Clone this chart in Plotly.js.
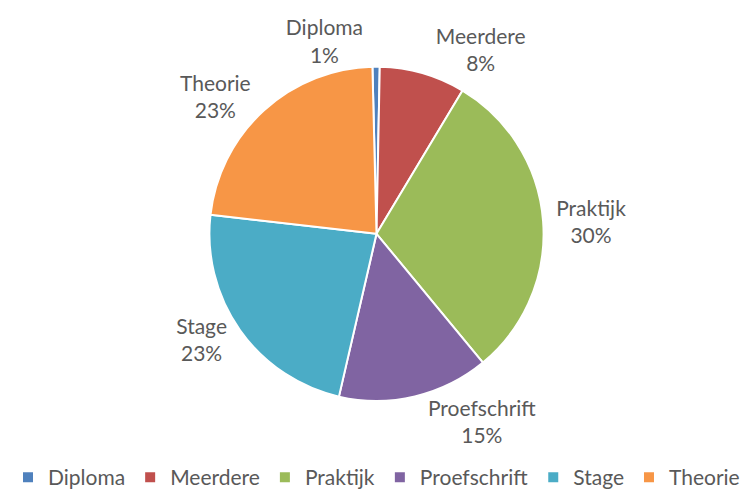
<!DOCTYPE html>
<html>
<head>
<meta charset="utf-8">
<script src="https://cdn.plot.ly/plotly-3.0.1.min.js"></script>
<style>html,body{margin:0;padding:0;background:#fff;}#chart{width:753px;height:498px;}</style>
</head>
<body>
<div id="chart"></div>
<script>
const categories = ["Diploma", "Meerdere", "Praktijk", "Proefschrift", "Stage", "Theorie"];
const shares = [0.7, 8.3, 30.4, 14.6, 23.2, 22.8];
const sliceColors = ["#4F81BD", "#C0504D", "#9BBB59", "#8064A2", "#4BACC6", "#F79646"];

const trace = {
  type: "pie",
  labels: categories,
  values: shares,
  sort: false,
  direction: "clockwise",
  rotation: -1.4,
  marker: { colors: sliceColors, line: { color: "#ffffff", width: 2 } },
  texttemplate: "%{label}<br>%{percent:.0%}",
  textposition: "outside",
  outsidetextfont: { family: "Lato, 'Open Sans', sans-serif", size: 21, color: "#595959" },
  hoverinfo: "label+percent",
  domain: { x: [0.1, 0.9], y: [0.195, 0.866] }
};

const layout = {
  width: 753,
  height: 498,
  margin: { l: 0, r: 0, t: 0, b: 0 },
  paper_bgcolor: "#ffffff",
  showlegend: true,
  legend: {
    orientation: "h",
    x: 0.5, xanchor: "center",
    y: 0.0, yanchor: "bottom",
    font: { family: "Lato, 'Open Sans', sans-serif", size: 21, color: "#595959" },
    traceorder: "normal"
  },
  font: { family: "Lato, 'Open Sans', sans-serif", color: "#595959" }
};

Plotly.newPlot("chart", [trace], layout, { displayModeBar: false, staticPlot: true });
</script>
</body>
</html>
